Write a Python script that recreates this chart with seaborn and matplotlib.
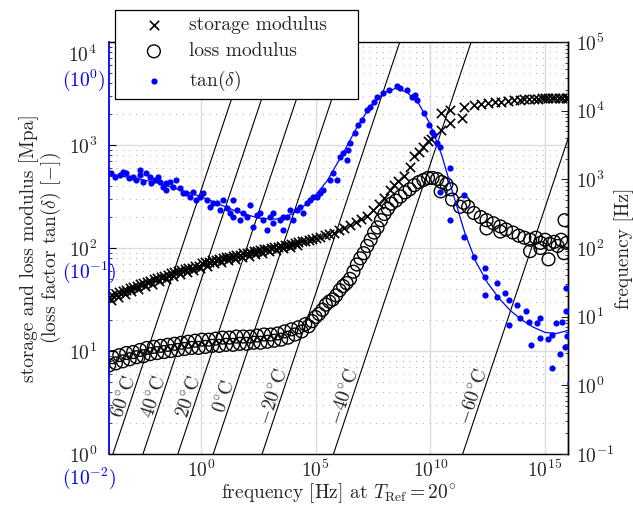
import numpy as np
import pandas as pd
import matplotlib
matplotlib.use("Agg")
import matplotlib.pyplot as plt
import matplotlib.transforms as mtransforms
from matplotlib.ticker import FixedLocator, NullLocator, LogLocator, NullFormatter, LogFormatterSciNotation
import seaborn as sns

# ---------------- data (log10 values) ----------------
storage_log_freq = [-4.00, -3.93, -3.85, -3.70, -3.62, -3.55, -3.40, -3.32, -3.25, -3.10, -3.02, -2.95, -2.80,
                    -2.72, -2.65, -2.50, -2.42, -2.35, -2.20, -2.12, -2.05, -1.90, -1.82, -1.75, -1.60, -1.52,
                    -1.45, -1.30, -1.22, -1.15, -1.00, -0.92, -0.85, -0.70, -0.62, -0.55, -0.40, -0.32, -0.25,
                    -0.10, -0.02, 0.05, 0.20, 0.28, 0.35, 0.50, 0.58, 0.65, 0.80, 0.88, 0.95, 1.10, 1.18, 1.25,
                    1.40, 1.48, 1.55, 1.70, 1.78, 1.85, 2.00, 2.08, 2.15, 2.30, 2.38, 2.45, 2.60, 2.68, 2.75,
                    2.90, 2.98, 3.05, 3.20, 3.28, 3.35, 3.50, 3.58, 3.65, 3.80, 3.88, 3.95, 4.10, 4.18, 4.25,
                    4.40, 4.55, 4.70, 4.85, 5.00, 5.20, 5.40, 5.60, 5.80, 6.00, 6.25, 6.50, 6.75, 7.00, 7.25,
                    7.50, 7.75, 8.00, 8.25, 8.40, 8.60, 8.85, 9.10, 9.30, 9.50, 9.70, 9.90, 10.05, 10.45,
                    10.87, 11.38, 10.45, 10.87, 11.45, 11.90, 12.20, 12.50, 12.80, 13.10, 13.40, 13.65, 13.90,
                    14.10, 14.30, 14.50, 14.70, 14.85, 15.00, 15.15, 15.30, 15.45, 15.60, 15.75, 15.90, 16.00]
storage_log_mod = [1.52, 1.50, 1.54, 1.55, 1.52, 1.57, 1.58, 1.55, 1.59, 1.61, 1.58, 1.62, 1.63,
                   1.60, 1.65, 1.66, 1.63, 1.67, 1.68, 1.65, 1.70, 1.71, 1.68, 1.72, 1.73, 1.70,
                   1.74, 1.76, 1.73, 1.77, 1.78, 1.75, 1.79, 1.80, 1.77, 1.81, 1.81, 1.79, 1.83,
                   1.83, 1.81, 1.85, 1.86, 1.83, 1.86, 1.88, 1.85, 1.88, 1.89, 1.86, 1.90, 1.91, 1.88, 1.91,
                   1.92, 1.89, 1.93, 1.93, 1.91, 1.95, 1.95, 1.92, 1.96, 1.97, 1.94, 1.97, 1.98, 1.95, 1.99,
                   1.99, 1.97, 2.00, 2.01, 1.98, 2.01, 2.02, 2.00, 2.03, 2.03, 2.01, 2.04, 2.05, 2.03, 2.06,
                   2.07, 2.07, 2.08, 2.09, 2.10, 2.11, 2.13, 2.14, 2.15, 2.17, 2.19, 2.22, 2.25, 2.28, 2.31,
                   2.37, 2.43, 2.49, 2.56, 2.61, 2.65, 2.70, 2.79, 2.89, 2.93, 2.98, 3.04, 3.06, 3.15,
                   3.21, 3.26, 3.31, 3.34, 3.37, 3.39, 3.40, 3.41, 3.42, 3.42, 3.43, 3.44, 3.44,
                   3.45, 3.45, 3.45, 3.45, 3.46, 3.46, 3.46, 3.46, 3.46, 3.46, 3.46, 3.46, 3.46]

loss_log_freq = [-4.00, -3.85, -3.70, -3.55, -3.40, -3.25, -3.10, -2.95, -2.80, -2.65, -2.50, -2.35, -2.20,
                 -2.05, -1.90, -1.75, -1.60, -1.45, -1.30, -1.15, -1.00, -0.85, -0.70, -0.55, -0.40, -0.25,
                 -0.10, 0.05, 0.20, 0.35, 0.50, 0.65, 0.80, 0.95, 1.10, 1.25, 1.40, 1.55, 1.70, 1.85, 2.00,
                 2.15, 2.30, 2.45, 2.60, 2.75, 2.90, 3.05, 3.20, 3.35, 3.50, 3.65, 3.80, 3.95, 4.10, 4.25,
                 4.40, 4.55, 4.70, 4.85, 5.00, 5.15, 5.30, 5.45, 5.60, 5.75, 5.90, 6.05, 6.20, 6.35, 6.50,
                 6.65, 6.80, 6.95, 7.10, 7.25, 7.40, 7.55, 7.70, 7.85, 8.00, 8.15, 8.30, 8.50, 8.70, 8.90,
                 9.10, 9.30, 9.50, 9.70, 9.90, 10.10, 10.30, 10.50, 10.70, 10.90, 10.45, 10.95, 11.30,
                 11.45, 11.65, 11.90, 12.20, 12.45, 12.45, 12.75, 13.05, 13.05, 13.30, 13.60, 13.85, 14.10,
                 14.35, 14.35, 14.60, 14.80, 14.80, 15.00, 15.15, 15.20, 15.40, 15.55, 15.70, 15.82, 15.85,
                 15.95]
loss_log_mod = [0.86, 0.94, 0.88, 0.96, 0.90, 0.98, 0.92, 0.99, 0.94, 1.01, 0.95, 1.03, 0.97,
                1.04, 0.98, 1.05, 0.99, 1.06, 1.00, 1.07, 1.01, 1.08, 1.02, 1.09, 1.03, 1.10,
                1.03, 1.11, 1.04, 1.11, 1.05, 1.12, 1.05, 1.13, 1.06, 1.13, 1.06, 1.14, 1.07, 1.14, 1.07,
                1.14, 1.08, 1.15, 1.08, 1.16, 1.09, 1.16, 1.10, 1.17, 1.11, 1.19, 1.13, 1.21, 1.16, 1.23,
                1.19, 1.26, 1.24, 1.29, 1.33, 1.36, 1.40, 1.45, 1.48, 1.50, 1.54, 1.59, 1.63, 1.66, 1.70,
                1.77, 1.84, 1.90, 1.95, 2.02, 2.08, 2.15, 2.20, 2.27, 2.33, 2.38, 2.43, 2.46, 2.50, 2.54,
                2.57, 2.61, 2.64, 2.66, 2.68, 2.68, 2.67, 2.64, 2.62, 2.57, 2.55, 2.47, 2.40,
                2.44, 2.40, 2.34, 2.30, 2.27, 2.19, 2.24, 2.21, 2.16, 2.18, 2.15, 2.12, 2.10,
                2.08, 1.97, 2.10, 2.05, 2.00, 2.08, 1.89, 2.04, 2.06, 2.02, 2.08, 1.95, 2.27,
                2.05]

tan_log_freq = [-3.90, -3.75, -3.54, -3.40, -3.25, -3.11, -2.96, -2.81, -2.66, -2.66, -2.52, -2.37, -2.23,
                -2.15, -2.01, -1.86, -1.79, -1.65, -1.50, -1.50, -1.35, -1.21, -1.06, -0.92, -0.77, -0.63,
                -0.48, -0.34, -0.19, -0.04, 0.10, 0.25, 0.39, 0.54, 0.69, 0.83, 0.97, 1.12, 1.27, 1.41,
                1.41, 1.56, 1.70, 1.85, 2.00, 2.14, 2.28, 2.43, 2.58, 2.72, 2.87, 3.01, 3.16, 3.16, 3.45,
                3.60, 3.60, 3.74, 3.88, 4.03, 4.18, 4.32, 4.47, 4.61, 4.76, 4.91, 5.05, 5.19, 5.34, 5.63,
                5.78, 5.92, 6.07, 6.21, 6.36, 6.43, 6.50, 6.72, 6.87, 7.03, 7.24, 7.38, 7.53, 7.67, 7.96,
                8.18, 8.55, 8.69, 8.98, 9.20, 9.35, 9.42, 9.71, 9.93, 10.08, 10.15, 10.29, 10.44, 10.87,
                10.44, 11.45, 10.87, 11.45, 11.89, 12.40, 12.40, 12.40, 12.91, 12.91, 13.27, 13.42, 13.42,
                13.78, 13.93, 14.15, 14.29, 14.37, 14.66, 14.80, 14.80, 15.13, 15.31, 15.31, 15.46, 15.65,
                15.75, 15.85, 15.90, 15.90, 15.94, 16.09]
tan_log = [-0.638, -0.654, -0.646, -0.630, -0.638, -0.662, -0.654, -0.670, -0.646, -0.622, -0.678, -0.638, -0.654,
           -0.686, -0.670, -0.654, -0.678, -0.703, -0.686, -0.719, -0.678, -0.703, -0.670, -0.711, -0.735, -0.735,
           -0.751, -0.727, -0.767, -0.751, -0.735, -0.767, -0.800, -0.783, -0.783, -0.816, -0.767, -0.808, -0.832, -0.848,
           -0.767, -0.816, -0.864, -0.832, -0.848, -0.792, -0.897, -0.840, -0.832, -0.864, -0.913, -0.848, -0.880, -0.832, -0.864,
           -0.913, -0.848, -0.848, -0.816, -0.864, -0.816, -0.800, -0.832, -0.783, -0.767, -0.751, -0.751, -0.735, -0.719, -0.670,
           -0.638, -0.670, -0.557, -0.540, -0.573, -0.524, -0.492, -0.443, -0.403, -0.379, -0.330, -0.314, -0.290, -0.265, -0.249,
           -0.233, -0.214, -0.225, -0.233, -0.265, -0.257, -0.282, -0.346, -0.403, -0.435, -0.451, -0.492, -0.508, -0.613,
           -0.727, -0.743, -0.864, -0.945, -1.042, -1.099, -1.139, -1.228, -1.172, -1.236, -1.217, -1.252, -1.374,
           -1.277, -1.341, -1.306, -1.358, -1.471, -1.366, -1.341, -1.435, -1.443, -1.422, -1.584, -1.366, -1.515,
           -1.358, -1.482, -1.306, -1.193, -1.427, -1.657]

tanfit_log_freq = [-4.0, -2.0, 0.0, 1.5, 2.5, 3.3, 4.0, 4.8, 5.5, 6.2, 6.8, 7.4, 8.0, 8.5, 9.0, 9.5, 10.0,
                   10.5, 11.0, 11.5, 12.0, 12.5, 13.0, 13.5, 14.0, 14.5, 15.0, 15.5, 16.0]
tanfit_log = [-0.640, -0.680, -0.750, -0.820, -0.855, -0.860, -0.835, -0.770, -0.675, -0.540, -0.415, -0.310,
              -0.245, -0.225, -0.245, -0.300, -0.400, -0.550, -0.740, -0.925, -1.070, -1.170, -1.245, -1.305,
              -1.350, -1.385, -1.410, -1.415, -1.400]

isotherm_labels = [r"$60^{\circ}$C", r"$40^{\circ}$C", r"$20^{\circ}$C", r"$0^{\circ}$C",
                   r"$-20^{\circ}$C", r"$-40^{\circ}$C", r"$-60^{\circ}$C"]
isotherm_log_shift = [-2.83, -1.52, 0.0, 1.54, 3.67, 6.78, 12.41]
measured_freq_range = [1e-1, 1e5]
isotherm_label_freq = 10 ** -0.2

x_ticks = [1e0, 1e5, 1e10, 1e15]
mod_ticks = [1e0, 1e1, 1e2, 1e3, 1e4]
mod_tick_labels = [r"$10^{0}$", r"$10^{1}$", r"$10^{2}$", r"$10^{3}$", ""]
tan_tick_vals = [1e0, 1e-1, 1e-2]
tan_tick_labels = [r"$(10^{0})$", r"$(10^{-1})$", r"$(10^{-2})$"]

# ---------------- style ----------------
sns.set_style("white")
plt.rcParams.update({
    "font.family": "serif",
    "font.serif": ["cmr10"],
    "mathtext.fontset": "cm",
    "axes.formatter.use_mathtext": True,
    "font.size": 14,
    "axes.unicode_minus": True,
})

fig = plt.figure(figsize=(6.33, 5.07), dpi=100)
ax = fig.add_axes([109 / 633, 1 - 454 / 507, 459 / 633, 412 / 507])
ax2 = ax.twinx()
ax3 = ax.twinx()
ax.set_zorder(1); ax2.set_zorder(2); ax3.set_zorder(3)
ax.patch.set_visible(True); ax.patch.set_facecolor("white")
ax2.patch.set_visible(False)

for a in (ax, ax2, ax3):
    a.set_xscale("log")
    a.set_yscale("log")
    a.set_xlim(1e-4, 1e16)
ax.set_ylim(1e0, 1e4)
ax2.set_ylim(1e-1, 1e5)
ax3.set_ylim(1e-2, 1e0)

df_st = pd.DataFrame({"f": 10 ** np.array(storage_log_freq), "E": 10 ** np.array(storage_log_mod)})
df_lo = pd.DataFrame({"f": 10 ** np.array(loss_log_freq), "E": 10 ** np.array(loss_log_mod)})
df_tan = pd.DataFrame({"f": 10 ** np.array(tan_log_freq), "t": 10 ** np.array(tan_log)})
df_fit = pd.DataFrame({"f": 10 ** np.array(tanfit_log_freq), "t": 10 ** np.array(tanfit_log)})

sns.scatterplot(data=df_st, x="f", y="E", ax=ax, marker="x", s=45, color="black",
                linewidth=1.2, label="storage modulus", legend=False, zorder=3)
sns.scatterplot(data=df_lo, x="f", y="E", ax=ax, marker="o", s=85, color="black",
                facecolor="none", edgecolor="black", linewidth=1.0, label="loss modulus",
                legend=False, zorder=3)

# isotherms on the measured-frequency axis
for lab, sh in zip(isotherm_labels, isotherm_log_shift):
    xs = [f * 10 ** sh for f in measured_freq_range]
    ax2.plot(xs, measured_freq_range, color="black", lw=0.8)

p1 = ax2.transData.transform((1e0, 1e0))
p2 = ax2.transData.transform((1e1, 1e1))
angle = np.degrees(np.arctan2(p2[1] - p1[1], p2[0] - p1[0]))
tr = mtransforms.offset_copy(ax2.transData, fig=fig, x=-1.0, y=0.3, units="points")
for lab, sh in zip(isotherm_labels, isotherm_log_shift):
    ax2.text(isotherm_label_freq * 10 ** sh, isotherm_label_freq, lab, rotation=angle,
             rotation_mode="anchor", ha="center", va="baseline", transform=tr, fontsize=14)

sns.lineplot(data=df_fit, x="f", y="t", ax=ax3, color="blue", lw=0.9, sort=False,
             estimator=None, legend=False, zorder=2)
sns.scatterplot(data=df_tan, x="f", y="t", ax=ax3, marker="o", s=20, color="blue",
                linewidth=0, label=r"$\tan(\delta)$", legend=False, zorder=3)

# ---------------- axes cosmetics ----------------
ax.xaxis.set_major_locator(FixedLocator(x_ticks))
ax.xaxis.set_major_formatter(LogFormatterSciNotation())
ax.xaxis.set_minor_locator(NullLocator())
ax.set_yticks(mod_ticks)
ax.set_yticklabels(mod_tick_labels)
ax.yaxis.set_minor_locator(LogLocator(base=10, subs=np.arange(2, 10), numticks=20))
ax.yaxis.set_minor_formatter(NullFormatter())
ax.set_ylim(1e0, 1e4)

ax2.yaxis.set_major_locator(LogLocator(base=10, numticks=20))
ax2.yaxis.set_major_formatter(LogFormatterSciNotation())
ax2.yaxis.set_minor_locator(LogLocator(base=10, subs=np.arange(2, 10), numticks=20))
ax2.yaxis.set_minor_formatter(NullFormatter())
ax2.set_ylim(1e-1, 1e5)

ax.grid(True, which="major", axis="both", color="#dcdcdc", lw=1.0, ls="-")
ax.grid(True, which="minor", axis="y", color="#b8b8b8", lw=0.8, ls=(0, (1, 5)))
ax.set_axisbelow(True)

ax.tick_params(axis="y", which="major", direction="in", length=5, width=0.8, pad=8.5,
               left=True, right=False, labelsize=14, color="black")
ax.tick_params(axis="y", which="minor", direction="in", length=2.5, width=0.6, left=True, right=False)
ax.tick_params(axis="x", which="major", direction="in", length=5, width=0.8, pad=4, labelsize=14,
               top=False)
ax2.tick_params(axis="y", which="major", direction="in", length=5, width=0.8, pad=5.5, labelsize=14)
ax2.tick_params(axis="y", which="minor", direction="in", length=2.5, width=0.6)

for s in ("top", "bottom", "right"):
    ax.spines[s].set_color("black"); ax.spines[s].set_linewidth(1.0)
ax.spines["left"].set_color("blue"); ax.spines["left"].set_linewidth(1.3)
for s in ("left", "top", "bottom"):
    ax2.spines[s].set_visible(False)
ax2.spines["right"].set_color("black"); ax2.spines["right"].set_linewidth(1.0)
ax3.set_xlabel(""); ax3.set_ylabel("")
ax2.set_xlabel("")
ax3.set_axis_off()

ax.set_xlabel(r"frequency [Hz] at $T_{\mathrm{Ref}} = 20^{\circ}$", fontsize=14, labelpad=0.0)
ax.set_ylabel("storage and loss modulus [Mpa]\n(loss factor tan($\\delta$) [$-$])",
              fontsize=14, linespacing=1.0, labelpad=4)
ax2.set_ylabel("frequency [Hz]", fontsize=14, labelpad=0.0)

# black 10^4 label (shifted) and blue tan(delta) labels on the left
ax.annotate(r"$10^{4}$", xy=(0, 1e4), xycoords=("axes fraction", "data"), xytext=(-8.5, -8),
            textcoords="offset points", ha="right", va="center_baseline", fontsize=14)
for val, txt, dy in zip(tan_tick_vals, tan_tick_labels, [-25, -15, -15]):
    ax3.annotate(txt, xy=(0, val), xycoords=("axes fraction", "data"), xytext=(-34, dy),
                 textcoords="offset points", ha="left", va="center_baseline", fontsize=14,
                 color="blue", annotation_clip=False)

h1, l1 = ax.get_legend_handles_labels()
h3, l3 = ax3.get_legend_handles_labels()
leg = ax3.legend(h1 + h3, l1 + l3, loc="upper left",
                 bbox_to_anchor=(0.0131, 0.8593, 0.529, 0.2184), mode="expand",
                 frameon=True, fancybox=False, framealpha=1, edgecolor="black",
                 borderaxespad=0, borderpad=0.3, handlelength=3.4, handletextpad=0.1,
                 labelspacing=0.45, fontsize=14, scatterpoints=1)
leg.get_frame().set_linewidth(0.9)

fig.savefig("out.png", dpi=100, facecolor="white")
